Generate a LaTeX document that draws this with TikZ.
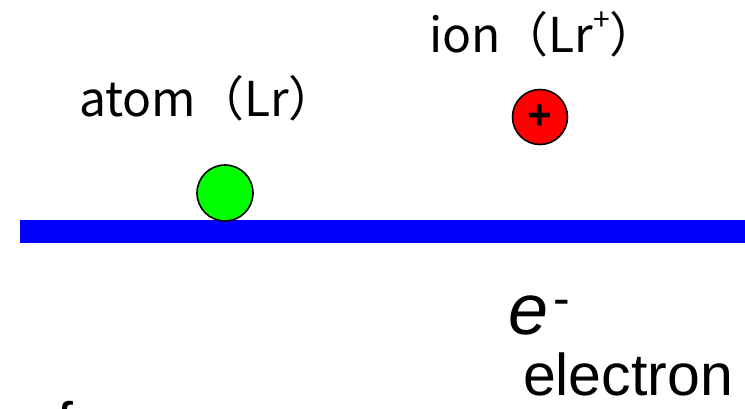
\documentclass[tikz,border=0pt]{standalone}
\usepackage{fontspec}
\setmainfont{Liberation Sans}
\newfontfamily\jp{Noto Sans CJK JP}
\begin{document}
\begin{tikzpicture}[x=1pt,y=-1pt,
  lbl/.style={inner sep=0pt,outer sep=0pt,anchor=base west},
  particle/.style={circle,draw=black,line width=1.6pt,inner sep=0pt,minimum size=#1},
]
\definecolor{barblue}{RGB}{0,0,255}
\definecolor{atomgreen}{RGB}{0,255,0}
\definecolor{ionred}{RGB}{255,0,0}
\useasboundingbox (0,0) rectangle (745,409);
% surface
\fill[barblue] (20,220) rectangle (745,243);
% atom
\node[particle=56pt,fill=atomgreen] (atom) at (225,193) {};
% ion
\node[particle=55pt,fill=ionred] (ion) at (540,117) {};
\node[inner sep=0pt] (plus) at (540,117.5) {\fontsize{42}{42}\selectfont\bfseries +};
% labels
\node[lbl] (atomlbl) at (79,117) {\jp\fontsize{48}{54}\selectfont atom（Lr）};
\node[lbl] (ionlbl) at (429,53) {\jp\fontsize{48}{54}\selectfont ion（Lr\raisebox{22pt}{\fontsize{30}{30}\selectfont +}）};
\node[lbl] (elec) at (508,334) {\fontsize{72}{72}\selectfont\itshape e\hspace{5pt}\raisebox{19pt}{\fontsize{50}{50}\selectfont\upshape -}};
\node[lbl] (electxt) at (523,395) {\fontsize{59}{59}\selectfont electron};
\node[lbl] (ftxt) at (57,442) {\fontsize{57}{57}\selectfont f};
\end{tikzpicture}
\end{document}
